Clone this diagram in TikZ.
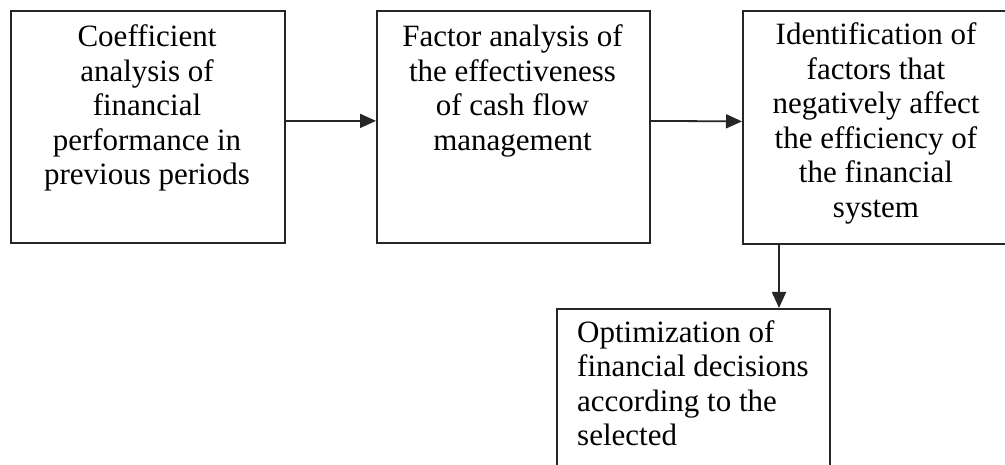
\documentclass[tikz,border=0pt]{standalone}
\usepackage{fontspec}
\setmainfont{Liberation Serif}
\usetikzlibrary{arrows.meta}
\tikzset{
  box/.style={draw=black!85, line width=1.8pt, rectangle, inner sep=0pt, anchor=north west},
  lbl/.style={inner sep=0pt, font=\fontsize{31}{34.5}\selectfont, text=black},
  arr/.style={draw=black!85, line width=1.8pt, -{Triangle[length=16pt,width=14pt]}}
}
\begin{document}
\begin{tikzpicture}[x=1pt,y=-1pt]
\useasboundingbox (0,0) rectangle (1005,465);
\fill[white] (0,0) rectangle (1005,465);
\clip (0,0) rectangle (1005,465);
\node[box, minimum width=274pt, minimum height=232pt] (b1) at (10,10) {};
\node[box, minimum width=273pt, minimum height=232pt] (b2) at (376,10) {};
\node[box, minimum width=270pt, minimum height=233pt] (b3) at (742,10) {};
\node[box, minimum width=273pt, minimum height=190pt] (b4) at (556,308) {};
\node[lbl, align=center, anchor=base] (t1) at (147,185) {Coefficient\\analysis of\\financial\\performance in\\previous periods};
\node[lbl, align=center, anchor=base] (t2) at (512.5,150.5) {Factor analysis of\\the effectiveness\\of cash flow\\management};
\node[lbl, align=center, anchor=base] (t3) at (876,217.5) {Identification of\\factors that\\negatively affect\\the efficiency of\\the financial\\system};
\node[lbl, align=left, anchor=base west] (t4) at (577,445.5) {Optimization of\\financial decisions\\according to the\\selected};
\draw[arr] ([yshift=6pt]b1.east) -- ([yshift=6pt]b2.west);
\draw[arr] ([yshift=6pt]b2.east) -- ([yshift=6pt]b3.west);
\draw[arr] ([xshift=37pt]b3.south west) coordinate (d) -- (d |- b4.north);
\end{tikzpicture}
\end{document}
